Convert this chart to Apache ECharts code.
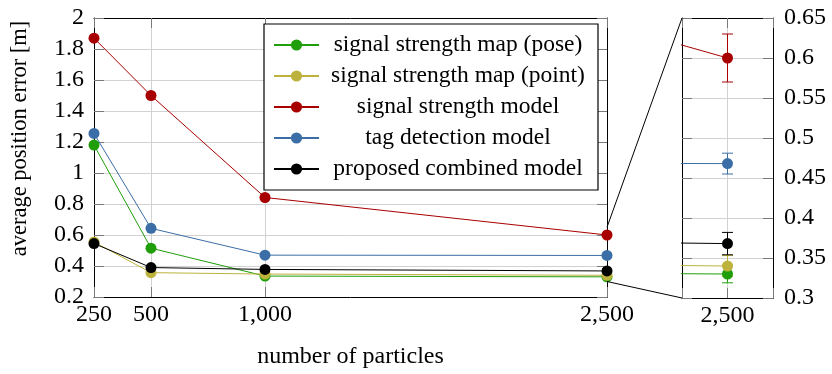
<!DOCTYPE html>
<html>
<head>
<meta charset="utf-8">
<script src="https://cdn.jsdelivr.net/npm/echarts@6/dist/echarts.min.js"></script>
<style>
  html, body { margin: 0; padding: 0; background: #fff; }
  #chart { width: 832px; height: 374px; }
</style>
</head>
<body>
<div id="chart"></div>
<script>
// Number of particles and average position error [m] per localisation model
const particles = [250, 500, 1000, 2500];
const seriesNames = [
  'signal strength map (pose)',
  'signal strength map (point)',
  'signal strength model',
  'tag detection model',
  'proposed combined model'
];
const mapPose   = [1.18, 0.515, 0.335, 0.33];
const mapPoint  = [0.555, 0.357, 0.348, 0.34];
const sigModel  = [1.87, 1.50, 0.842, 0.60];
const tagModel  = [1.255, 0.643, 0.47, 0.468];
const combined  = [0.545, 0.39, 0.378, 0.368];
// Standard deviation at 2,500 particles (shown in the zoomed panel)
const errAt2500 = [0.011, 0.013, 0.03, 0.013, 0.014];

const xTicks = [250, 500, 1000, 2500];
const colors = ['#1f9e0a', '#bdb23c', '#a80000', '#3b6ea6', '#000000'];
const allValues = [mapPose, mapPoint, sigModel, tagModel, combined];

const FONT = 'Liberation Serif';
const fmtThousands = v => String(v).replace(/\B(?=(\d{3})+(?!\d))/g, ',');

const gridLine = { show: true, showMinLine: false, showMaxLine: false, lineStyle: { color: '#d2d2d2', width: 1 } };
const tickStyle = { show: true, inside: true, length: 10, lineStyle: { color: '#7a7a7a', width: 1 } };
const frameLine = { show: true, onZero: false, lineStyle: { color: '#000', width: 1 } };

function pairs(vals) { return particles.map((p, i) => [p, vals[i]]); }

const series = [];
// main panel
allValues.forEach((vals, i) => {
  series.push({
    name: seriesNames[i], type: 'line', xAxisIndex: 0, yAxisIndex: 0,
    data: pairs(vals), symbol: 'circle', symbolSize: 11, showAllSymbol: true,
    itemStyle: { color: colors[i] }, lineStyle: { color: colors[i], width: 1 }
  });
});
// zoomed panel (same data, clipped to the small window)
allValues.forEach((vals, i) => {
  series.push({
    name: seriesNames[i], type: 'line', xAxisIndex: 2, yAxisIndex: 2,
    data: pairs(vals), symbol: 'circle', symbolSize: 11, showAllSymbol: true, clip: true,
    itemStyle: { color: colors[i] }, lineStyle: { color: colors[i], width: 1 }, z: 3
  });
  series.push({
    type: 'custom', xAxisIndex: 2, yAxisIndex: 2, z: 2,
    data: [[2500, vals[3], errAt2500[i]]],
    renderItem: function (params, api) {
      const x = api.value(0), y = api.value(1), e = api.value(2);
      const top = api.coord([x, y + e]);
      const bot = api.coord([x, y - e]);
      const w = 5.5;
      const st = { stroke: colors[i], lineWidth: 1 };
      return {
        type: 'group', children: [
          { type: 'line', shape: { x1: top[0], y1: top[1], x2: bot[0], y2: bot[1] }, style: st },
          { type: 'line', shape: { x1: top[0] - w, y1: top[1], x2: top[0] + w, y2: top[1] }, style: st },
          { type: 'line', shape: { x1: bot[0] - w, y1: bot[1], x2: bot[0] + w, y2: bot[1] }, style: st }
        ]
      };
    }
  });
});

const chart = echarts.init(document.getElementById('chart'), null, { renderer: 'canvas' });
chart.setOption({
  animation: false,
  backgroundColor: '#fff',
  textStyle: { fontFamily: FONT, color: '#000' },
  grid: [
    { left: 94, top: 18, width: 513, height: 280 },
    { left: 682, top: 18, width: 91, height: 280 }
  ],
  legend: {
    data: seriesNames,
    orient: 'vertical', left: 264, top: 24,
    padding: [9, 6, 9, 9], itemGap: 7, itemWidth: 45, itemHeight: 14, itemTextGap: 4,
    borderColor: '#000', borderWidth: 1.2, backgroundColor: '#fff',
    formatter: name => '{t|' + name + '}',
    textStyle: { rich: { t: { width: 268, align: 'center', fontSize: 23.5, lineHeight: 24, fontFamily: FONT, color: '#000' } } }
  },
  xAxis: [
    { gridIndex: 0, type: 'value', min: 250, max: 2500, position: 'bottom',
      name: 'number of particles', nameLocation: 'middle', nameGap: 48,
      nameTextStyle: { fontSize: 24, fontFamily: FONT, color: '#000' },
      axisLine: frameLine,
      axisTick: Object.assign({}, tickStyle, { customValues: xTicks }),
      axisLabel: { customValues: xTicks, formatter: fmtThousands, fontSize: 24, fontFamily: FONT, color: '#000', margin: 6 },
      splitLine: gridLine },
    { gridIndex: 0, type: 'value', min: 250, max: 2500, position: 'top',
      axisLine: frameLine,
      axisTick: Object.assign({}, tickStyle, { customValues: xTicks }),
      axisLabel: { show: false }, splitLine: { show: false } },
    { gridIndex: 1, type: 'value', min: 2400, max: 2600, interval: 100, position: 'bottom',
      axisLine: frameLine, axisTick: tickStyle,
      axisLabel: { formatter: v => (v === 2500 ? fmtThousands(v) : ''), fontSize: 24, fontFamily: FONT, color: '#000', margin: 6 },
      splitLine: gridLine },
    { gridIndex: 1, type: 'value', min: 2400, max: 2600, interval: 100, position: 'top',
      axisLine: frameLine, axisTick: tickStyle,
      axisLabel: { show: false }, splitLine: { show: false } }
  ],
  yAxis: [
    { gridIndex: 0, type: 'value', min: 0.2, max: 2, interval: 0.2, position: 'left',
      name: 'average position error [m]', nameLocation: 'middle', nameGap: 62,
      nameTextStyle: { fontSize: 22.5, fontFamily: FONT, color: '#000', padding: [0, 0, 0, 38] },
      axisLine: frameLine, axisTick: tickStyle,
      axisLabel: { fontSize: 24, fontFamily: FONT, color: '#000', margin: 10 },
      splitLine: gridLine },
    { gridIndex: 0, type: 'value', min: 0.2, max: 2, interval: 0.2, position: 'right',
      axisLine: frameLine, axisTick: tickStyle,
      axisLabel: { show: false }, splitLine: { show: false } },
    { gridIndex: 1, type: 'value', min: 0.3, max: 0.65, interval: 0.05, position: 'right',
      axisLine: frameLine, axisTick: tickStyle,
      axisLabel: { fontSize: 24, fontFamily: FONT, color: '#000', margin: 11 },
      splitLine: gridLine },
    { gridIndex: 1, type: 'value', min: 0.3, max: 0.65, interval: 0.05, position: 'left',
      axisLine: frameLine, axisTick: tickStyle,
      axisLabel: { show: false }, splitLine: { show: false } }
  ],
  series: series
});

// Connector lines from the zoomed window in the main panel to the inset
const zoomX = 2500, zoomLo = 0.3, zoomHi = 0.65, insetLeft = 2400;
const mTop = chart.convertToPixel({ xAxisIndex: 0, yAxisIndex: 0 }, [zoomX, zoomHi]);
const mBot = chart.convertToPixel({ xAxisIndex: 0, yAxisIndex: 0 }, [zoomX, zoomLo]);
const iTop = chart.convertToPixel({ xAxisIndex: 2, yAxisIndex: 2 }, [insetLeft, zoomHi]);
const iBot = chart.convertToPixel({ xAxisIndex: 2, yAxisIndex: 2 }, [insetLeft, zoomLo]);
chart.setOption({
  graphic: [
    { type: 'line', shape: { x1: mTop[0], y1: mTop[1], x2: iTop[0], y2: iTop[1] }, style: { stroke: '#000', lineWidth: 1 }, z: 10 },
    { type: 'line', shape: { x1: mBot[0], y1: mBot[1], x2: iBot[0], y2: iBot[1] }, style: { stroke: '#000', lineWidth: 1 }, z: 10 }
  ]
});
</script>
</body>
</html>
